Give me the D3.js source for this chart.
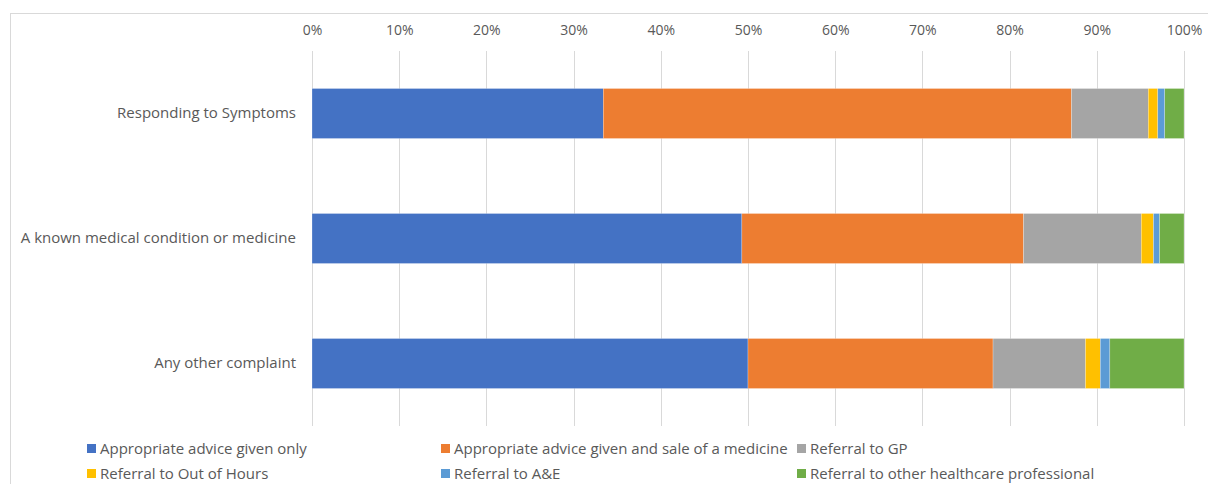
<!DOCTYPE html>
<html><head><meta charset="utf-8">
<script src="https://cdn.jsdelivr.net/npm/d3@7"></script>
<style>body{margin:0;background:#fff;} svg{display:block;font-family:"Open Sans",sans-serif;}</style>
</head><body>
<svg id="c" width="1208" height="484"></svg>
<script>
const categories = ["Responding to Symptoms", "A known medical condition or medicine", "Any other complaint"];
const seriesNames = ["Appropriate advice given only", "Appropriate advice given and sale of a medicine", "Referral to GP", "Referral to Out of Hours", "Referral to A&E", "Referral to other healthcare professional"];
const adviceOnly = [33.4, 49.3, 50.0];
const adviceSale = [53.7, 32.3, 28.1];
const referralGP = [8.8, 13.5, 10.6];
const referralOOH = [1.1, 1.4, 1.7];
const referralAE = [0.8, 0.7, 1.1];
const referralOther = [2.2, 2.8, 8.5];
const tickValues = [0, 0.1, 0.2, 0.3, 0.4, 0.5, 0.6, 0.7, 0.8, 0.9, 1.0];
const colors = ["#4472C4", "#ED7D31", "#A5A5A5", "#FFC000", "#5B9BD5", "#70AD47"];

const FONT = "Open Sans, sans-serif";
const seriesValues = [adviceOnly, adviceSale, referralGP, referralOOH, referralAE, referralOther];
const rows = categories.map((c, i) => {
  const o = {cat: c};
  seriesNames.forEach((s, j) => o[s] = seriesValues[j][i]);
  return o;
});
const stacked = d3.stack().keys(seriesNames).offset(d3.stackOffsetExpand)(rows);

const svg = d3.select("#c");
svg.append("rect").attr("x", 10.5).attr("y", 13.5).attr("width", 1220).attr("height", 500)
  .attr("fill", "none").attr("stroke", "#D9D9D9");

const x = d3.scaleLinear().domain([0, 1]).range([312, 1184]);
const y = d3.scaleBand().domain(categories).range([51, 426]).paddingInner(0.6).paddingOuter(0.3);

const g = svg.append("g");
g.selectAll("line.grid").data(tickValues).join("line")
  .attr("x1", d => Math.round(x(d)) + 0.5).attr("x2", d => Math.round(x(d)) + 0.5)
  .attr("y1", 51).attr("y2", 426).attr("stroke", "#D9D9D9").attr("stroke-width", 1);

const xAxis = d3.axisTop(x).tickValues(tickValues).tickFormat(d3.format(".0%")).tickSize(0).tickPadding(0);
const ax = svg.append("g").attr("transform", "translate(0,35)").call(xAxis);
ax.select(".domain").remove();
ax.selectAll("text").attr("fill", "#595959").attr("font-size", 14).attr("font-family", FONT);

svg.append("g").selectAll("g").data(stacked).join("g")
  .attr("fill", (d, i) => colors[i])
  .selectAll("rect").data(d => d).join("rect")
  .attr("x", d => x(d[0])).attr("width", d => x(d[1]) - x(d[0]))
  .attr("y", d => y(d.data.cat)).attr("height", y.bandwidth())
  .attr("stroke", "#fff").attr("stroke-width", 0.4).attr("stroke-opacity", 0.6);

const yAxis = d3.axisLeft(y).tickSize(0).tickPadding(16);
const ay = svg.append("g").attr("transform", "translate(312,0)").call(yAxis);
ay.select(".domain").remove();
ay.selectAll("text").attr("fill", "#595959").attr("font-size", 15).attr("font-family", FONT);

const legendPos = [[87, 449], [441, 449], [797, 449], [87, 474], [441, 474], [797, 474]];
const lg = svg.append("g").selectAll("g").data(seriesNames).join("g")
  .attr("transform", (d, i) => `translate(${legendPos[i][0]},${legendPos[i][1]})`);
lg.append("rect").attr("x", 0).attr("y", -5).attr("width", 9).attr("height", 9).attr("fill", (d, i) => colors[i]);
lg.append("text").attr("x", 13).attr("y", 0).attr("dy", "0.35em").attr("font-size", 15)
  .attr("font-family", FONT).attr("fill", "#595959").text(d => d);
</script>
</body></html>
